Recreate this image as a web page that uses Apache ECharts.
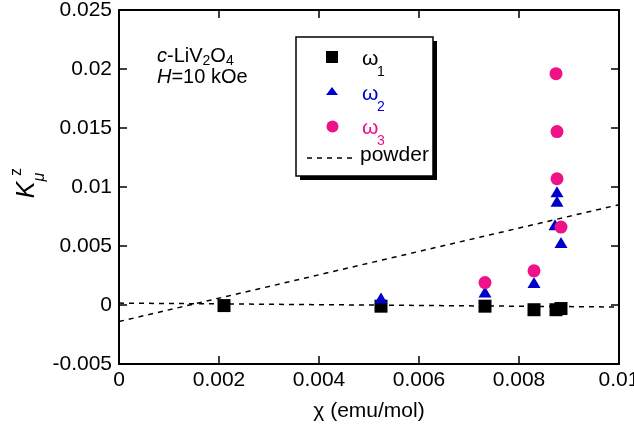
<!DOCTYPE html>
<html>
<head>
<meta charset="utf-8">
<script src="https://cdn.jsdelivr.net/npm/echarts@6/dist/echarts.min.js"></script>
<style>
  html, body { margin: 0; padding: 0; background: #fff; }
  #chart { width: 634px; height: 428px; }
</style>
</head>
<body>
<div id="chart"></div>
<script>
// chi (emu/mol) and K_mu^z for each frequency branch
const omega1Chi = [0.0021, 0.00524, 0.00732, 0.0083, 0.00874, 0.00884];
const omega1K = [-0.00005, -0.0001, -0.0001, -0.0004, -0.0004, -0.0003];
const omega2Chi = [0.00524, 0.00732, 0.0083, 0.00872, 0.00876, 0.00876, 0.00884];
const omega2K = [0.0006, 0.0011, 0.0019, 0.0068, 0.0088, 0.0096, 0.0053];
const omega3Chi = [0.00732, 0.0083, 0.00874, 0.00876, 0.00876, 0.00884];
const omega3K = [0.0019, 0.0029, 0.0196, 0.0147, 0.0107, 0.0066];
// dashed lines (end points)
const powderChi = [0, 0.01];
const powderK = [-0.0014, 0.0085];
const flatChi = [0, 0.01];
const flatK = [0.00016, -0.00017];
// axes
const xTicks = [0, 0.002, 0.004, 0.006, 0.008, 0.01];
const yTicks = [-0.005, 0, 0.005, 0.01, 0.015, 0.02, 0.025];
const legendSubs = ['1', '2', '3'];

const FONT = 'Liberation Sans';
const BLUE = '#0000cc';
const PINK = '#ee1188';
const zip = (a, b) => a.map((v, i) => [v, b[i]]);

const axisCommon = {
  type: 'value',
  axisLine: { show: true, onZero: false, lineStyle: { color: '#000', width: 2 } },
  axisTick: { show: true, inside: true, length: 8, lineStyle: { color: '#000', width: 1.5 } },
  splitLine: { show: false },
};

// legend is drawn by hand: frame + shadow, markers, labels with subscripts
function legendLabel(y, sub, color) {
  return [
    { type: 'text', z: 7, x: 362, y: y - 7.4, style: { text: 'ω', fill: color, font: '21px ' + FONT, verticalAlign: 'middle' } },
    { type: 'text', z: 7, x: 377, y: y + 10 - 5, style: { text: sub, fill: color, font: '14px ' + FONT, verticalAlign: 'middle' } },
  ];
}

const legendGraphic = [
  { type: 'rect', z: 5, shape: { x: 300, y: 41, width: 137, height: 139 }, style: { fill: '#000' } },
  { type: 'rect', z: 6, shape: { x: 296, y: 37, width: 137, height: 139 }, style: { fill: '#fff', stroke: '#000', lineWidth: 1.5 } },
  { type: 'rect', z: 7, shape: { x: 326, y: 51, width: 12, height: 12 }, style: { fill: '#000' } },
  { type: 'polygon', z: 7, shape: { points: [[326, 95], [338, 95], [332, 87]] }, style: { fill: BLUE } },
  { type: 'circle', z: 7, shape: { cx: 332.5, cy: 126.5, r: 6 }, style: { fill: PINK } },
  { type: 'line', z: 7, shape: { x1: 307, y1: 158, x2: 357, y2: 158 }, style: { stroke: '#000', lineWidth: 1.5, lineDash: [5, 5] } },
  ...legendLabel(67, legendSubs[0], '#000'),
  ...legendLabel(102, legendSubs[1], BLUE),
  ...legendLabel(136, legendSubs[2], PINK),
  { type: 'text', z: 7, x: 360, y: 163 - 7.4, style: { text: 'powder', fill: '#000', font: '21px ' + FONT, verticalAlign: 'middle' } },
];

const chart = echarts.init(document.getElementById('chart'));
const option = {
  animation: false,
  backgroundColor: '#fff',
  grid: { left: 119, right: 15, top: 10, bottom: 64, outerBoundsMode: 'none', containLabel: false },
  xAxis: [
    Object.assign({}, axisCommon, {
      min: xTicks[0],
      max: xTicks[xTicks.length - 1],
      interval: 0.002,
      position: 'bottom',
      axisLabel: { color: '#000', fontFamily: FONT, fontSize: 21, margin: 6 },
      name: 'χ (emu/mol)',
      nameLocation: 'middle',
      nameGap: 37,
      nameTextStyle: { color: '#000', fontFamily: FONT, fontSize: 21 },
    }),
    Object.assign({}, axisCommon, {
      min: xTicks[0],
      max: xTicks[xTicks.length - 1],
      interval: 0.002,
      position: 'top',
      axisLabel: { show: false },
    }),
  ],
  yAxis: [
    Object.assign({}, axisCommon, {
      min: yTicks[0],
      max: yTicks[yTicks.length - 1],
      interval: 0.005,
      position: 'left',
      axisLabel: { color: '#000', fontFamily: FONT, fontSize: 21, margin: 7 },
    }),
    Object.assign({}, axisCommon, {
      min: yTicks[0],
      max: yTicks[yTicks.length - 1],
      interval: 0.005,
      position: 'right',
      axisLabel: { show: false },
    }),
  ],
  graphic: [
    ...legendGraphic,
    {
      type: 'text',
      left: 157,
      top: 45,
      style: {
        text: '{i|c}{n|-LiV}{s|2}{n|O}{s|4}',
        fill: '#000',
        font: '20px ' + FONT,
        rich: {
          n: { fontFamily: FONT, fontSize: 20, lineHeight: 22, verticalAlign: 'top' },
          i: { fontFamily: FONT, fontSize: 20, fontStyle: 'italic', lineHeight: 22, verticalAlign: 'top' },
          s: { fontFamily: FONT, fontSize: 14, lineHeight: 16, verticalAlign: 'bottom', padding: [9, 0, 0, 0] },
        },
      },
    },
    {
      type: 'text',
      left: 157,
      top: 67,
      style: {
        text: '{i|H}{n|=10 kOe}',
        fill: '#000',
        font: '20px ' + FONT,
        rich: {
          n: { fontFamily: FONT, fontSize: 20, lineHeight: 22 },
          i: { fontFamily: FONT, fontSize: 20, fontStyle: 'italic', lineHeight: 22 },
        },
      },
    },
    // y axis title K_mu^z, rotated
    {
      type: 'text',
      x: 27, y: 190, rotation: Math.PI / 2,
      style: { text: 'K', fill: '#000', font: 'italic 25px ' + FONT, align: 'center', verticalAlign: 'middle' },
    },
    {
      type: 'text',
      x: 17, y: 172, rotation: Math.PI / 2,
      style: { text: 'z', fill: '#000', font: '16px ' + FONT, align: 'center', verticalAlign: 'middle' },
    },
    {
      type: 'text',
      x: 40, y: 177, rotation: Math.PI / 2,
      style: { text: 'μ', fill: '#000', font: 'italic 16px ' + FONT, align: 'center', verticalAlign: 'middle' },
    },
  ],
  series: [
    {
      name: 'powder',
      type: 'line',
      data: zip(powderChi, powderK),
      symbol: 'none',
      lineStyle: { color: '#000', width: 1.5, type: [5, 5] },
      z: 1,
    },
    {
      name: 'flat',
      type: 'line',
      data: zip(flatChi, flatK),
      symbol: 'none',
      lineStyle: { color: '#000', width: 1.5, type: [5, 5] },
      z: 1,
    },
    {
      name: 'ω1',
      type: 'scatter',
      data: zip(omega1Chi, omega1K),
      symbol: 'rect',
      symbolSize: 13,
      itemStyle: { color: '#000', opacity: 1 },
      z: 2,
    },
    {
      name: 'ω2',
      type: 'scatter',
      data: zip(omega2Chi, omega2K),
      symbol: 'triangle',
      symbolSize: [13, 11],
      itemStyle: { color: BLUE, opacity: 1 },
      z: 3,
    },
    {
      name: 'ω3',
      type: 'scatter',
      data: zip(omega3Chi, omega3K),
      symbol: 'circle',
      symbolSize: 13,
      itemStyle: { color: PINK, opacity: 1 },
      z: 4,
    },
  ],
};
chart.setOption(option);
</script>
</body>
</html>
